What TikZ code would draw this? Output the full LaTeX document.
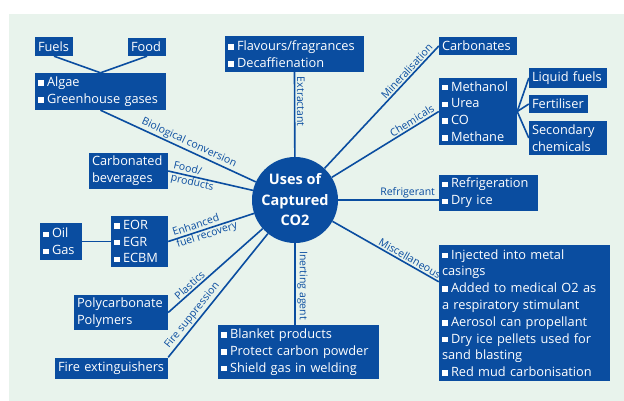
\documentclass[tikz,border=0pt]{standalone}
\usepackage{fontspec}
\setmainfont{Open Sans}
\definecolor{cblue}{RGB}{10,77,160}
\definecolor{cpanel}{RGB}{232,243,236}
\newcommand{\bul}{\rule[0.7pt]{5.5pt}{5.5pt}\hspace{3.5pt}}
\begin{document}
\begin{tikzpicture}[x=1pt,y=-1pt,
    box/.style={fill=cblue,text=white,align=left,inner xsep=3pt,inner ysep=1pt,font=\fontsize{12.8}{16.8}\selectfont},
    hubnode/.style={circle,fill=cblue,text=white,minimum size=86pt,inner sep=0pt,align=center,font=\fontsize{14.5}{20.5}\selectfont\bfseries},
    link/.style={draw=cblue,line width=1.6pt},
    tag/.style={text=cblue,inner sep=1.5pt,font=\fontsize{10.5}{12.5}\selectfont}]
    \useasboundingbox (0,0) rectangle (624,401);
    \fill [cpanel] (9,14) rectangle (624,401);
    \node [hubnode] (hub) at (295,200) {Uses of\\Captured\\CO2};
    \node [box,text width=32pt,minimum height=19pt] (fuels) at (54,46.5) {Fuels};
    \node [box,text width=32pt,minimum height=18pt] (food) at (147,47) {Food};
    \node [box,text width=125pt,minimum height=37pt] (algae) at (100.5,91.5) {\bul Algae\\\bul Greenhouse gases};
    \node [box,text width=133pt,minimum height=36pt] (flav) at (294.5,54) {\bul Flavours/fragrances\\\bul Decaffienation};
    \node [box,text width=72pt,minimum height=18pt] (carb) at (478,46) {Carbonates};
    \node [box,text width=72pt,minimum height=67pt] (meth) at (478,111.5) {\bul Methanol\\\bul Urea\\\bul CO\\\bul Methane};
    \node [box,text width=72pt,minimum height=20pt] (liquid) at (568,78) {Liquid fuels};
    \node [box,text width=53pt,minimum height=18pt] (fert) at (558.5,104) {Fertiliser};
    \node [box,text width=72pt,minimum height=34pt] (sec) at (568,138) {Secondary\\chemicals};
    \node [box,text width=93pt,minimum height=36pt] (refrig) at (488.5,193) {\bul Refrigeration\\\bul Dry ice};
    \node [box,text width=165pt,minimum height=136pt] (misc) at (524.5,313) {\bul Injected into metal\\casings\\\bul Added to medical O2 as\\a respiratory stimulant\\\bul Aerosol can propellant\\\bul Dry ice pellets used for\\sand blasting\\\bul Red mud carbonisation};
    \node [box,text width=155pt,minimum height=54pt] (blanket) at (298.5,352) {\bul Blanket products\\\bul Protect carbon powder\\\bul Shield gas in welding};
    \node [box,text width=107pt,minimum height=21pt] (fire) at (111.5,368) {Fire extinguishers};
    \node [box,text width=88pt,minimum height=35pt] (poly) at (121,312.5) {Polycarbonate\\Polymers};
    \node [box,text width=51pt,minimum height=51pt] (eor) at (139.5,241.5) {\bul EOR\\\bul EGR\\\bul ECBM};
    \node [box,text width=36pt,minimum height=37pt] (oil) at (61,241.5) {\bul Oil\\\bul Gas};
    \node [box,text width=73pt,minimum height=36pt] (bev) at (128.5,171) {Carbonated\\beverages};
    \draw [link] (fuels.south) -- (algae.north);
    \draw [link] (food.south) -- (algae.north);
    \draw [link] (oil.east) -- (eor.west);
    \draw [link] (meth.east) -- (liquid.west);
    \draw [link] (meth.east) -- (fert.west);
    \draw [link] (meth.east) -- (sec.west);
    \draw [link] (algae.south) -- (hub) node [tag,pos=0.55,sloped,above] {Biological conversion};
    \draw [link] (bev.east) -- (hub) node [tag,pos=0.3,sloped,align=left] {Food/\\products};
    \draw [link] (eor.east) -- (hub) node [tag,pos=0.43,sloped,align=left] {Enhanced\\fuel recovery};
    \draw [link] (poly.east) -- (hub) node [tag,pos=0.27,sloped,above] {Plastics};
    \draw [link] (fire.north east) -- (hub) node [tag,pos=0.3,sloped,above] {Fire suppression};
    \draw [link] (flav.south) -- (hub) node [tag,pos=0.35,rotate=-90,above] {Extractant};
    \draw [link] (hub) -- (hub |- blanket.north) node [tag,pos=0.52,rotate=-90,above] {Inerting agent};
    \draw [link] (hub) -- (carb.west) node [tag,pos=0.76,sloped,above] {Mineralisation};
    \draw [link] (hub) -- (meth.west) node [tag,pos=0.78,sloped,above] {Chemicals};
    \draw [link] (hub) -- (hub -| refrig.west) node [tag,pos=0.69,above] {Refrigerant};
    \draw [link] (hub) -- ([yshift=-37pt]misc.north west) node [tag,pos=0.7,sloped,above] {Miscellaneous};
\end{tikzpicture}
\end{document}
